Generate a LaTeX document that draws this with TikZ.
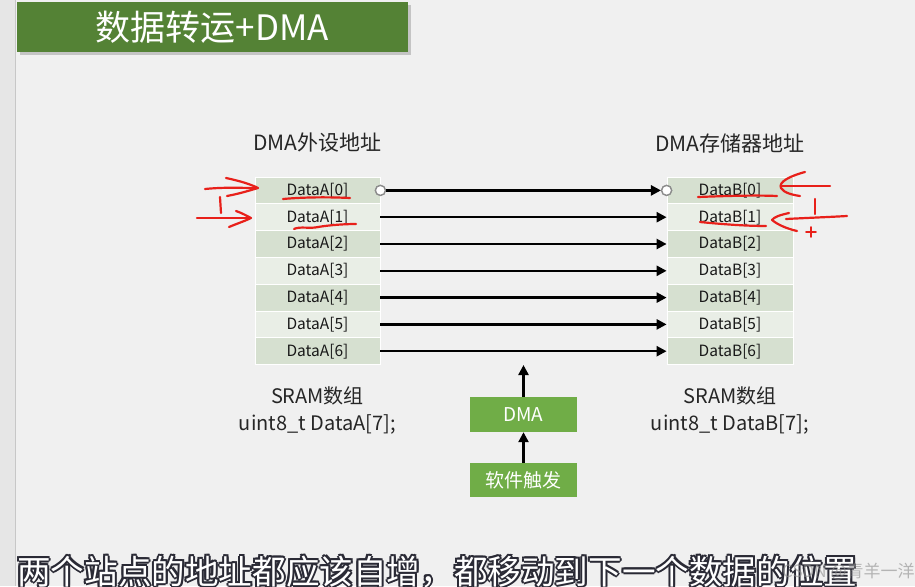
\documentclass[tikz,border=0pt]{standalone}
\usepackage{fontspec}
\setmainfont{Noto Sans CJK SC}
\usetikzlibrary{arrows.meta}
\definecolor{bg}{HTML}{F0F0F0}
\definecolor{strip}{HTML}{E6E6E6}
\definecolor{titlegreen}{HTML}{548235}
\definecolor{boxgreen}{HTML}{70AD47}
\definecolor{rowdark}{HTML}{D6E0D0}
\definecolor{rowlight}{HTML}{E9EEE6}
\definecolor{redmark}{HTML}{E8201A}
\definecolor{outline}{HTML}{2A2A35}
\begin{document}
\begin{tikzpicture}[x=1pt,y=-1pt,
  titlebox/.style={fill=titlegreen,text=white,minimum width=391pt,minimum height=50pt,inner sep=0pt,font=\fontsize{35}{40}\selectfont},
  cell/.style={draw=white,line width=0.8pt,minimum width=125pt,minimum height=26.8pt,inner sep=0pt,text=black!90,font=\fontsize{15.5}{17}\selectfont},
  lbl/.style={text=black!85,inner sep=0pt,align=center,font=\fontsize{20}{27}\selectfont},
  gbox/.style={fill=boxgreen,text=white,minimum width=107pt,inner sep=0pt,font=\fontsize{19}{22}\selectfont},
  conn/.style={line width=2.4pt,-{Triangle[length=10pt,width=10pt]}},
  pincircle/.style={circle,draw=black!45,fill=white,line width=1.3pt,minimum size=10pt,inner sep=0pt},
  redpen/.style={draw=redmark,line width=2.2pt,line cap=round,line join=round},
  subtxt/.style={anchor=west,inner sep=0pt,font=\fontsize{33.6}{40}\selectfont}
]
\clip (0,0) rectangle (915,586);
\fill[bg] (0,0) rectangle (915,586);
\fill[strip] (0,0) rectangle (15,586);
\draw[black!22,line width=1pt] (15.5,0) -- (15.5,586);

% title
\fill[black!30,opacity=0.7] (20,5) rectangle (411,55);
\node[titlebox] (title) at (212.5,27) {数据转运+DMA};

% headers
\node[lbl] (ha) at (317.5,143) {\fontsize{21}{24}\selectfont DMA外设地址};
\node[lbl] (hb) at (730,143) {\fontsize{21}{24}\selectfont DMA存储器地址};

% tables
\foreach \i/\c in {0/rowdark,1/rowlight,2/rowdark,3/rowlight,4/rowdark,5/rowlight,6/rowdark}{
  \node[cell,fill=\c] (a\i) at (317.5,{190.4+26.8*\i}) {DataA[\i]};
  \node[cell,fill=\c,minimum width=126pt] (b\i) at (730,{190.4+26.8*\i}) {DataB[\i]};
}

% connectors
\node[pincircle] (ca) at (a0.east) {};
\node[pincircle] (cb) at (b0.west) {};
\draw[conn] (ca) -- (cb);
\node[pincircle] (ca2) at (a0.east) {};
\node[pincircle] (cb2) at (b0.west) {};
\foreach \i in {1,...,6}{
  \draw[conn] (a\i.east) -- (b\i.west);
}

% array labels
\node[lbl] (sa) at (317.5,410) {SRAM数组\\uint8\_t DataA[7];};
\node[lbl] (sb) at (730,410) {SRAM数组\\uint8\_t DataB[7];};

% DMA boxes
\node[gbox,minimum height=35pt] (dma) at (523.5,414.5) {DMA};
\node[gbox,minimum height=34pt] (trig) at (523.5,480) {软件触发};
\coordinate (dmatop) at (523.5,365);
\draw[conn] (trig.north) -- (dma.south);
\draw[conn] (dma.north) -- (dmatop);

% red hand annotations (left)
\draw[redpen] (205,189) .. controls (225,187) and (240,188) .. (257,188);
\draw[redpen] (226,178) .. controls (240,181) and (250,184) .. (258,188) .. controls (248,191) and (238,194) .. (227,196);
\draw[redpen] (220,197) -- (221,213);
\draw[redpen] (197,218) -- (249,218);
\draw[redpen] (236,211) .. controls (242,213) and (247,216) .. (251,218) .. controls (245,221) and (236,224) .. (229,227);
\draw[redpen] (283,199) .. controls (305,197) and (330,197) .. (350,198);
\draw[redpen] (294,229) .. controls (300,226) and (310,229) .. (318,227) .. controls (330,225) and (345,224) .. (356,224);
% red hand annotations (right)
\draw[redpen] (698,197) .. controls (725,196) and (755,195) .. (777,196);
\draw[redpen] (805,172) .. controls (790,176) and (778,182) .. (781,188) .. controls (784,193) and (793,195) .. (800,196);
\draw[redpen] (782,186) -- (830,186);
\draw[redpen] (815,199) -- (815,214);
\draw[redpen] (786,219) .. controls (805,218) and (830,217) .. (847,216);
\draw[redpen] (789,213) .. controls (780,215) and (774,217) .. (772,220) .. controls (778,225) and (788,229) .. (797,231);
\draw[redpen] (700,222) .. controls (720,224) and (745,226) .. (766,226);
\draw[redpen,line width=1.6pt] (806,232) -- (816,232);
\draw[redpen,line width=1.6pt] (811,227) -- (811,237);

% subtitle with outline
\foreach \dx/\dy [count=\k] in {-2/0,2/0,0/-2,0/2,-1.5/-1.5,1.5/1.5,-1.5/1.5,1.5/-1.5}{
  \node[subtxt,text=outline] (subsh\k) at ({17+\dx},{572+\dy}) {两个站点的地址都应该自增，都移动到下一个数据的位置};
}
\node[subtxt,text=white] (sub) at (17,572) {两个站点的地址都应该自增，都移动到下一个数据的位置};

% watermark (over the subtitle)
\node[anchor=west,inner sep=0pt,text=black!45,opacity=0.6,font=\fontsize{17}{20}\selectfont] (wm) at (782,572) {CSDN @青羊一洋};
\end{tikzpicture}
\end{document}
